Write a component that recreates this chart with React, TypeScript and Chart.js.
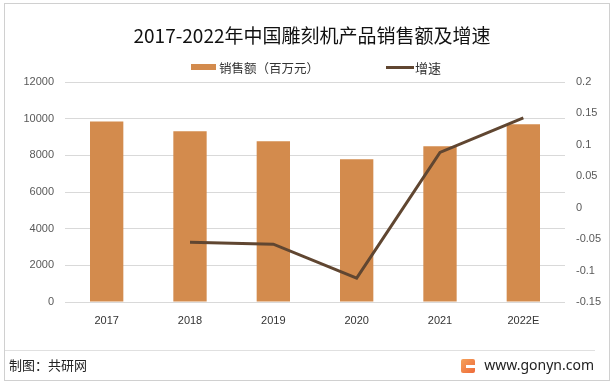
import React, { useEffect, useRef } from "react";
import { Chart, registerables } from "chart.js";

Chart.register(...registerables);

const categories = ["2017", "2018", "2019", "2020", "2021", "2022E"];
const salesValues = [9850, 9320, 8770, 7790, 8490, 9690];
const growthValues = [null, -0.055, -0.058, -0.112, 0.088, 0.143];
const leftTicks = [0, 2000, 4000, 6000, 8000, 10000, 12000];
const rightTicks = ["-0.15", "-0.1", "-0.05", "0", "0.05", "0.1", "0.15", "0.2"];

const BAR_COLOR = "#D38B4D";
const LINE_COLOR = "#604631";
const TEXT_COLOR = "#595959";
const CJK = '"Noto Sans CJK SC", "Noto Sans", sans-serif';
const LAT = '"Liberation Sans", Arial, sans-serif';

export default function App() {
  const ref = useRef<HTMLCanvasElement | null>(null);

  useEffect(() => {
    if (!ref.current) return;
    const chart = new Chart(ref.current, {
      type: "bar",
      data: {
        labels: categories,
        datasets: [
          {
            type: "line",
            label: "增速",
            data: growthValues,
            yAxisID: "y1",
            borderColor: LINE_COLOR,
            backgroundColor: LINE_COLOR,
            borderWidth: 3,
            pointRadius: 0,
            tension: 0,
            order: 0,
          } as any,
          {
            type: "bar",
            label: "销售额（百万元）",
            data: salesValues,
            yAxisID: "y",
            backgroundColor: BAR_COLOR,
            barPercentage: 0.8,
            categoryPercentage: 0.5,
            order: 1,
          },
        ],
      },
      options: {
        animation: false,
        responsive: false,
        maintainAspectRatio: false,
        layout: { padding: { top: 82, left: 0, right: 0, bottom: 0 } },
        plugins: {
          legend: { display: false },
          title: { display: false },
          tooltip: { enabled: false },
        },
        scales: {
          x: {
            grid: { display: false, drawTicks: false },
            border: { display: false },
            ticks: {
              color: "#333",
              font: { family: LAT, size: 11 },
              padding: 12,
              maxRotation: 0,
            },
            afterFit: (s: any) => {
              s.height = 83;
            },
          },
          y: {
            position: "left",
            min: 0,
            max: 12000,
            afterBuildTicks: (s: any) => {
              s.ticks = leftTicks.map((v) => ({ value: v }));
            },
            grid: { color: "#D9D9D9", drawTicks: false, lineWidth: 1 },
            border: { display: false },
            ticks: {
              color: TEXT_COLOR,
              font: { family: LAT, size: 11 },
              padding: 11,
              callback: (v: any) => String(v),
            },
            afterFit: (s: any) => {
              s.width = 65;
            },
          },
          y1: {
            position: "right",
            min: -0.15,
            max: 0.2,
            afterBuildTicks: (s: any) => {
              s.ticks = rightTicks.map((t) => ({ value: parseFloat(t) }));
            },
            grid: { display: false, drawTicks: false },
            border: { display: false },
            ticks: {
              color: TEXT_COLOR,
              font: { family: LAT, size: 11 },
              padding: 11,
              callback: (v: any) => {
                const found = rightTicks.find((t) => Math.abs(parseFloat(t) - Number(v)) < 1e-6);
                return found ?? String(v);
              },
            },
            afterFit: (s: any) => {
              s.width = 49;
            },
          },
        },
      },
    });
    return () => chart.destroy();
  }, []);

  return (
    <div
      style={{
        position: "fixed",
        left: 0,
        top: 0,
        width: 614,
        height: 385,
        background: "#fff",
        overflow: "hidden",
      }}
    >
      <div
        style={{
          position: "absolute",
          left: 4,
          top: 3,
          width: 604,
          height: 376,
          border: "1px solid #D0D0D0",
        }}
      />
      <canvas
        ref={ref}
        width={614}
        height={385}
        style={{ position: "absolute", left: 0, top: 0, width: 614, height: 385 }}
      />
      <div
        style={{
          position: "absolute",
          left: 0,
          width: 624,
          top: 22,
          textAlign: "center",
          fontFamily: CJK,
          fontSize: 19,
          lineHeight: "26px",
          color: "#111",
          whiteSpace: "nowrap",
        }}
      >
        2017-2022年中国雕刻机产品销售额及增速
      </div>
      <div
        style={{
          position: "absolute",
          left: 191,
          top: 64,
          width: 25,
          height: 6,
          background: BAR_COLOR,
        }}
      />
      <div
        style={{
          position: "absolute",
          left: 219,
          top: 59,
          fontFamily: CJK,
          fontSize: 12.5,
          lineHeight: "18px",
          color: "#333",
          whiteSpace: "nowrap",
        }}
      >
        销售额（百万元）
      </div>
      <div
        style={{
          position: "absolute",
          left: 386,
          top: 66,
          width: 28,
          height: 3,
          background: LINE_COLOR,
        }}
      />
      <div
        style={{
          position: "absolute",
          left: 415,
          top: 59,
          fontFamily: CJK,
          fontSize: 13,
          lineHeight: "18px",
          color: "#333",
          whiteSpace: "nowrap",
        }}
      >
        增速
      </div>
      <div
        style={{
          position: "absolute",
          left: 5,
          top: 350,
          width: 590,
          height: 1,
          background: "#E0E0E0",
        }}
      />
      <div
        style={{
          position: "absolute",
          left: 9,
          top: 356,
          fontFamily: CJK,
          fontSize: 13,
          lineHeight: "18px",
          color: "#222",
          whiteSpace: "nowrap",
        }}
      >
        制图：共研网
      </div>
      <div
        style={{
          position: "absolute",
          left: 461,
          top: 359,
          width: 14,
          height: 14,
          borderRadius: 2,
          background: "linear-gradient(135deg, #F5A25A, #EE6A3A)",
        }}
      >
        <div
          style={{
            position: "absolute",
            left: 5,
            top: 6,
            width: 9,
            height: 3,
            background: "#fff",
          }}
        />
      </div>
      <div
        style={{
          position: "absolute",
          right: 20,
          top: 355,
          fontFamily: '"Noto Sans", sans-serif',
          fontSize: 14,
          lineHeight: "20px",
          color: "#222",
          whiteSpace: "nowrap",
        }}
      >
        www.gonyn.com
      </div>
    </div>
  );
}
